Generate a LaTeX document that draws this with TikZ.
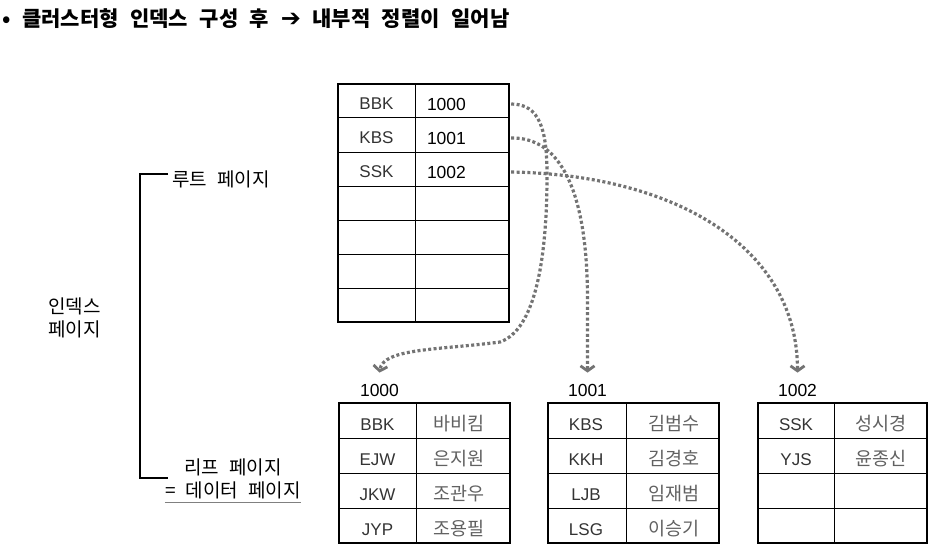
\documentclass[tikz,border=0pt]{standalone}
\usepackage{fontspec}
\setmainfont{Liberation Sans}
\newfontfamily\krfont[WordSpace=0.6]{Noto Sans CJK KR}
\newfontfamily\titlefont[WordSpace=2.4]{Noto Sans CJK KR}
\newfontfamily\symfont{DejaVu Sans}
\usetikzlibrary{arrows.meta}

\begin{document}
\begin{tikzpicture}[x=1pt,y=-1pt,
  framebox/.style={line width=2.6pt},
  gridline/.style={line width=1pt},
  keytext/.style={inner sep=0pt,text=black!80,font=\fontsize{17}{20}\selectfont},
  valtext/.style={inner sep=0pt,text=black!62,font=\krfont\fontsize{18.5}{20}\selectfont},
  numtext/.style={inner xsep=12pt,inner ysep=0pt,text width=69pt,align=left,font=\fontsize{17.5}{20}\selectfont},
  pagelbl/.style={inner sep=0pt,font=\fontsize{17.5}{20}\selectfont},
  sidelbl/.style={inner sep=0pt,font=\krfont\fontsize{19}{23}\selectfont},
  pointer/.style={black!55,line width=3.2pt,dash pattern=on 3pt off 2.4pt,
    -{Straight Barb[length=5pt,width=14pt,line width=2.8pt]}}]
  \useasboundingbox (0,0) rectangle (950,559);

  % title
  \node[anchor=west,inner sep=0pt,font=\titlefont\bfseries\fontsize{21}{24}\selectfont] (title) at (2,19)
    {• 클러스터형 인덱스 구성 후 {\symfont\bfseries\fontsize{24}{24}\selectfont ➔} 내부적 정렬이 일어남};

  % root page
  \draw[framebox] (338,84) rectangle (509,322);
  \draw[gridline] (415,84) -- (415,322);
  \draw[gridline] (338,118) -- (509,118);
  \draw[gridline] (338,152) -- (509,152);
  \draw[gridline] (338,186) -- (509,186);
  \draw[gridline] (338,220) -- (509,220);
  \draw[gridline] (338,254) -- (509,254);
  \draw[gridline] (338,288) -- (509,288);

  \node[keytext] (rk1) at (376.5,104) {BBK};
  \node[keytext] (rk2) at (376.5,138) {KBS};
  \node[keytext] (rk3) at (376.5,172) {SSK};
  \node[numtext] (rn1) at (461.5,104) {1000};
  \node[numtext] (rn2) at (461.5,138) {1001};
  \node[numtext] (rn3) at (461.5,172) {1002};

  % leaf pages
  \node[pagelbl] (p1000) at (379.5,390) {1000};
  \node[pagelbl] (p1001) at (587.5,390) {1001};
  \node[pagelbl] (p1002) at (797.5,390) {1002};

  \draw[framebox] (339,403) rectangle (510,543);
  \draw[gridline] (416,403) -- (416,543);
  \draw[gridline] (339,438) -- (510,438);
  \draw[gridline] (339,473) -- (510,473);
  \draw[gridline] (339,508) -- (510,508);
  \node[keytext] (ak1) at (377.5,425) {BBK};
  \node[keytext] (ak2) at (377.5,460) {EJW};
  \node[keytext] (ak3) at (377.5,495) {JKW};
  \node[keytext] (ak4) at (377.5,530) {JYP};
  \node[valtext] (av1) at (459,424) {바비킴};
  \node[valtext] (av2) at (459,459) {은지원};
  \node[valtext] (av3) at (459,494) {조관우};
  \node[valtext] (av4) at (459,529) {조용필};

  \draw[framebox] (548,403) rectangle (719,543);
  \draw[gridline] (626,403) -- (626,543);
  \draw[gridline] (548,438) -- (719,438);
  \draw[gridline] (548,473) -- (719,473);
  \draw[gridline] (548,508) -- (719,508);
  \node[keytext] (bk1) at (586,425) {KBS};
  \node[keytext] (bk2) at (586,460) {KKH};
  \node[keytext] (bk3) at (586,495) {LJB};
  \node[keytext] (bk4) at (586,530) {LSG};
  \node[valtext] (bv1) at (674,424) {김범수};
  \node[valtext] (bv2) at (674,459) {김경호};
  \node[valtext] (bv3) at (674,494) {임재범};
  \node[valtext] (bv4) at (674,529) {이승기};

  \draw[framebox] (758,403) rectangle (927,543);
  \draw[gridline] (834,403) -- (834,543);
  \draw[gridline] (758,438) -- (927,438);
  \draw[gridline] (758,473) -- (927,473);
  \draw[gridline] (758,508) -- (927,508);
  \node[keytext] (ck1) at (796,425) {SSK};
  \node[keytext] (ck2) at (796,460) {YJS};
  \node[valtext] (cv1) at (881,424) {성시경};
  \node[valtext] (cv2) at (881,459) {윤종신};

  % pointers
  \draw[pointer] ([xshift=3pt]rn1.east) .. controls (540,104) and (547,130) .. (547,175)
    .. controls (547,260) and (535,330) .. (500,342)
    .. controls (440,350) and (383,348) .. ([yshift=11pt]p1000.north);
  \draw[pointer] ([xshift=3pt]rn2.east) .. controls (560,137) and (587.5,190) .. (587.5,300)
    -- ([yshift=11pt]p1001.north);
  \draw[pointer] ([xshift=3pt]rn3.east) .. controls (680,175) and (797.5,250) .. ([yshift=11pt]p1002.north);

  % bracket
  \coordinate (bt) at (140,174);
  \coordinate (bb) at (140,478);
  \coordinate (tt) at (168,174);
  \coordinate (tb) at (168,478);
  \draw[line width=2pt] (tt) -- (bt) -- (bb) -- (tb);

  \node[sidelbl,anchor=west] (rootpg) at (172,179) {루트 페이지};
  \node[sidelbl,anchor=west,align=left] (idxpg) at (48,318) {인덱스\\페이지};
  \node[sidelbl,align=center] (leafpg) at (233,479) {리프 페이지\\= 데이터 페이지};
  \draw[gray,line width=1.3pt] ([yshift=-3pt]leafpg.south west) -- ([yshift=-3pt]leafpg.south east);
\end{tikzpicture}
\end{document}
